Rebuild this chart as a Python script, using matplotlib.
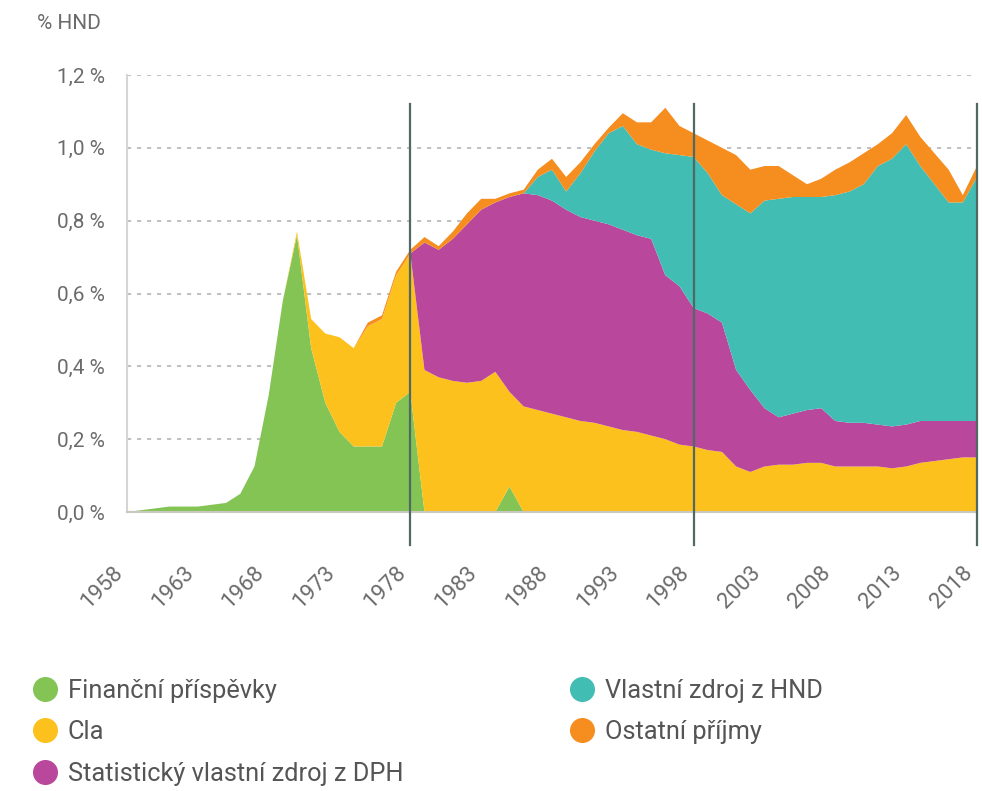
import matplotlib
matplotlib.use('Agg')
import matplotlib.pyplot as plt
from matplotlib.lines import Line2D

plt.rcParams['font.family'] = ['Roboto', 'DejaVu Sans']

# roky 1958-2018, podíl na HND v %
years = list(range(1958, 2019))

# 1958-1978, pak nuly, kratký výskyt v roce 1985
financni = ([0.0, 0.005, 0.01, 0.015, 0.015, 0.015, 0.02, 0.025, 0.05, 0.125,
             0.32, 0.58, 0.76, 0.45, 0.30, 0.22, 0.18, 0.18, 0.18, 0.30, 0.33]
            + [0] * 6 + [0.07] + [0] * 33)

cla = [0] * 12 + [0.01, 0.08, 0.19, 0.26, 0.27, 0.33, 0.35, 0.35, 0.38, 0.39,
                  0.37, 0.36, 0.355, 0.36, 0.385, 0.26, 0.29, 0.28, 0.27, 0.26,
                  0.25, 0.245, 0.235, 0.225, 0.22, 0.21, 0.20, 0.185, 0.18, 0.17,
                  0.165, 0.125, 0.11, 0.125, 0.13, 0.13, 0.135, 0.135, 0.125, 0.125,
                  0.125, 0.125, 0.12, 0.125, 0.135, 0.14, 0.145, 0.15, 0.15]

dph = [0] * 21 + [0.35, 0.35, 0.39, 0.435, 0.47, 0.465, 0.535, 0.585, 0.59, 0.585,
                  0.57, 0.56, 0.555, 0.555, 0.55, 0.54, 0.54, 0.45, 0.435, 0.38,
                  0.375, 0.355, 0.265, 0.225, 0.16, 0.13, 0.14, 0.145, 0.15, 0.125,
                  0.12, 0.12, 0.115, 0.115, 0.115, 0.115, 0.11, 0.105, 0.10, 0.10]

hnd = [0] * 29 + [0.05, 0.085, 0.05, 0.12, 0.19, 0.25, 0.285, 0.25, 0.245, 0.335,
                  0.36, 0.415, 0.385, 0.35, 0.455, 0.485, 0.57, 0.60, 0.595, 0.585,
                  0.58, 0.62, 0.635, 0.655, 0.71, 0.735, 0.77, 0.70, 0.65, 0.60,
                  0.60, 0.67]

ostatni = [0] * 17 + [0.01, 0.01, 0.01, 0.01, 0.015, 0.01, 0.02, 0.03, 0.03, 0.01,
                      0.01, 0.01, 0.02, 0.03, 0.04, 0.03, 0.02, 0.015, 0.035, 0.06,
                      0.075, 0.125, 0.08, 0.065, 0.09, 0.13, 0.135, 0.12, 0.095, 0.09,
                      0.06, 0.035, 0.05, 0.07, 0.08, 0.085, 0.06, 0.07, 0.08, 0.08,
                      0.085, 0.09, 0.02, 0.03]

labels = ['Finanční příspěvky', 'Cla', 'Statistický vlastní zdroj z DPH',
          'Vlastní zdroj z HND', 'Ostatní příjmy']
colors = ['#84c455', '#fcc11c', '#b9479b', '#41bdb3', '#f68d1f']

yticks = [0.0, 0.2, 0.4, 0.6, 0.8, 1.0, 1.2]
ytick_labels = ['0,0 %', '0,2 %', '0,4 %', '0,6 %', '0,8 %', '1,0 %', '1,2 %']
xticks = list(range(1958, 2019, 5))
milestones = [1978, 1998, 2018]

fig = plt.figure(figsize=(9.82, 7.91), dpi=100)
ax = fig.add_axes([0.1293, 0.3527, 0.8656, 0.5525])

ax.stackplot(years, financni, cla, dph, hnd, ostatni, colors=colors,
             linewidth=0, zorder=2)

ax.set_xlim(1958, 2018)
ax.set_ylim(0, 1.2)
ax.set_yticks(yticks)
ax.set_yticklabels(ytick_labels)
ax.set_xticks(xticks)
ax.set_xticklabels([str(x) for x in xticks], rotation=45, ha='right', va='top')
ax.tick_params(axis='both', length=0, colors='#6b6b6b')
ax.tick_params(axis='x', pad=36, labelsize=16)
ax.tick_params(axis='y', pad=16, labelsize=15)

for y in yticks[1:]:
    ax.axhline(y, color='#b5b5b5', lw=1.2, ls=(0, (2.5, 3.5)), zorder=1)

for s in ['top', 'right']:
    ax.spines[s].set_visible(False)
ax.spines['left'].set_color('#d5d5d5')
ax.spines['left'].set_linewidth(1.5)
ax.spines['bottom'].set_color('#c8c8c0')
ax.spines['bottom'].set_linewidth(1.5)
ax.spines['bottom'].set_zorder(3)

for m in milestones:
    ax.plot([m, m], [-0.09, 1.12], color='#4f6a64', lw=1.6, clip_on=False, zorder=4)

fig.text(0.038, 0.97, '% HND', fontsize=15, color='#6b6b6b', ha='left', va='center')

def handle(c):
    return Line2D([], [], marker='o', ls='none', markersize=17, color=c)

legend_kw = dict(loc='upper left', frameon=False, fontsize=18.3, labelspacing=0.7,
                 handletextpad=0.3, handlelength=1.2, labelcolor='#555555',
                 borderaxespad=0)
fig.legend([handle(c) for c in colors[:3]], labels[:3],
           bbox_to_anchor=(0.02, 0.155), **legend_kw)
fig.legend([handle(c) for c in colors[3:]], labels[3:],
           bbox_to_anchor=(0.567, 0.155), **legend_kw)

fig.savefig('out.png', dpi=100)
